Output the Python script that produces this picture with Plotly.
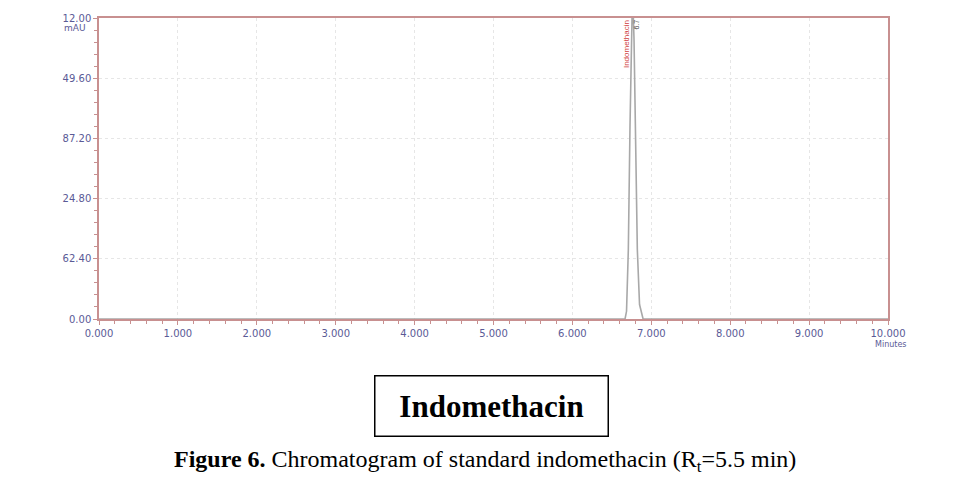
import plotly.graph_objects as go

# Chromatogram data (minutes, mAU)
time_min = [0.0, 6.60, 6.667, 6.686, 6.709, 6.730, 6.743, 6.762, 6.781, 6.800, 6.823, 6.851, 6.896, 7.0, 10.0]
signal_mau = [0.0, 0.0, 0.0, 8.0, 72.0, 200.0, 290.0, 340.0, 290.0, 200.0, 72.0, 15.0, 0.0, 0.0, 0.0]

x_ticks = [0, 1, 2, 3, 4, 5, 6, 7, 8, 9, 10]
x_ticklabels = ["0.000", "1.000", "2.000", "3.000", "4.000", "5.000", "6.000", "7.000", "8.000", "9.000", "10.000"]
y_ticks = [0.0, 62.4, 124.8, 187.2, 249.6, 312.0]
y_ticklabels = ["0.00", "62.40", "24.80", "87.20", "49.60", "12.00"]

peak_name = "Indomethacin"
peak_rt = "6.7"

axis_col = "#c89090"
lab_col = "#5a5a96"
tick_font = dict(family="DejaVu Sans, Verdana", size=10, color=lab_col)

# page body has an 8px offset; figure sized to fit the window
W, H = 958, 472
L, T = 91, 10
PW, PH = 789, 301

fig = go.Figure()
fig.add_trace(go.Scatter(x=time_min, y=signal_mau, mode="lines",
                         line=dict(color="#a8a8a8", width=1.6), showlegend=False,
                         hoverinfo="skip"))

fig.update_layout(
    width=W, height=H,
    margin=dict(l=L, r=W - L - PW, t=T, b=H - T - PH, autoexpand=False),
    paper_bgcolor="white", plot_bgcolor="white",
    xaxis=dict(range=[0, 10], tickvals=x_ticks, ticktext=x_ticklabels,
               showline=True, linecolor=axis_col, linewidth=1.5, mirror=True,
               ticks="outside", ticklen=4, tickcolor=axis_col,
               showgrid=True, gridcolor="#e6e6e6", griddash="dot", gridwidth=1,
               zeroline=False, tickfont=tick_font, automargin=False,
               minor=dict(dtick=0.2, ticks="outside", ticklen=3, tickcolor=axis_col, showgrid=False)),
    yaxis=dict(range=[0, 312], tickvals=y_ticks, ticktext=y_ticklabels,
               showline=True, linecolor=axis_col, linewidth=1.5, mirror=True,
               ticks="outside", ticklen=4, tickcolor=axis_col,
               showgrid=True, gridcolor="#e6e6e6", griddash="dot", gridwidth=1,
               zeroline=False, tickfont=tick_font, automargin=False,
               minor=dict(dtick=12.48, ticks="outside", ticklen=3, tickcolor=axis_col, showgrid=False)),
)


def px_x(px):
    return (px - 8 - L) / PW


def px_y(py):
    return 1 - (py - 8 - T) / PH


# axis unit labels
fig.add_annotation(text="mAU", xref="paper", yref="paper", x=px_x(88), y=px_y(28), xanchor="right", yanchor="middle",
                   showarrow=False, font=dict(family="DejaVu Sans, Verdana", size=9, color=lab_col))
fig.add_annotation(text="Minutes", xref="paper", yref="paper", x=px_x(909), y=px_y(344), xanchor="right", yanchor="middle",
                   showarrow=False, font=dict(family="DejaVu Sans, Verdana", size=8, color=lab_col))

# peak labels
fig.add_annotation(text=peak_name, x=6.68, y=312, xref="x", yref="y", yanchor="top", textangle=-90,
                   showarrow=False,
                   font=dict(family="Liberation Sans, Arial", size=8, color="#d04040"))
fig.add_annotation(text=peak_rt, x=6.80, y=312, xref="x", yref="y", yanchor="top", textangle=-90,
                   showarrow=False,
                   font=dict(family="Liberation Sans, Arial", size=7, color="#404040"))

# boxed compound name
fig.add_annotation(text="<b>Indomethacin</b>", xref="paper", yref="paper",
                   x=px_x(491), y=px_y(406), xanchor="center", yanchor="middle",
                   showarrow=False, bordercolor="black", borderwidth=1.5, borderpad=13,
                   width=206, height=33,
                   font=dict(family="Liberation Serif, Times New Roman", size=31, color="black"))

# caption
fig.add_annotation(text="<b>Figure 6.</b> Chromatogram of standard indomethacin (R<sub>t</sub>=5.5 min)",
                   xref="paper", yref="paper",
                   x=px_x(485), y=px_y(461), xanchor="center", yanchor="middle",
                   showarrow=False,
                   font=dict(family="Liberation Serif, Times New Roman", size=24, color="black"))

fig.write_html("out.html")
